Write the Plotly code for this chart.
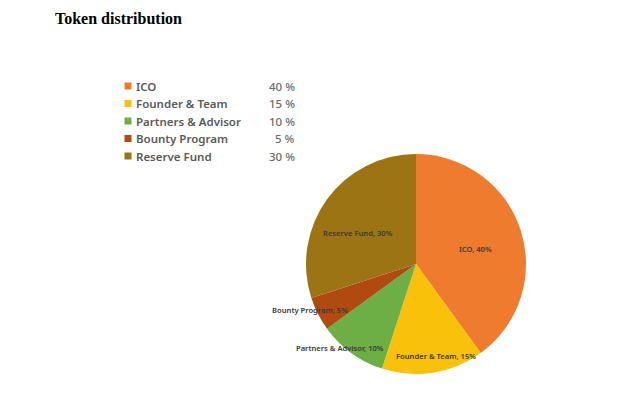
import math
import plotly.graph_objects as go

categories = ["ICO", "Founder & Team", "Partners & Advisor", "Bounty Program", "Reserve Fund"]
shares = [40, 15, 10, 5, 30]
colors = ["#EF7B2E", "#FAC10B", "#6DAE45", "#B14A10", "#9C7414"]
label_radius = [0.56, 0.855, 1.02, 1.05, 0.59]  # label distance from centre, as fraction of radius
label_xshift = [1, 5, -10, -3, -5]   # small pixel nudges of slice labels
label_yshift = [-4, 1, 7, 6, -7]
title_text = "Token distribution"

W, H = 640, 401
OFF = 8  # page body margin
cx, cy, r = 416 - OFF, 264 - OFF, 110

fig = go.Figure()
fig.add_trace(go.Pie(
    labels=categories,
    values=shares,
    sort=False,
    direction="clockwise",
    rotation=0,
    marker=dict(colors=colors, line=dict(width=0)),
    textinfo="none",
    hoverinfo="label+percent",
    showlegend=False,
    domain=dict(x=[(cx - r) / W, (cx + r) / W], y=[(H - cy - r) / H, (H - cy + r) / H]),
))

annotations = [dict(
    text="<b>" + title_text + "</b>", x=(53 - OFF) / W, y=1 - (18 - OFF) / H,
    xref="paper", yref="paper", xanchor="left", yanchor="middle", showarrow=False,
    font=dict(family="Liberation Serif", size=16, color="#000000"),
)]

# slice labels placed from the slice mid-angles
total = sum(shares)
start = 0.0
for cat, val, frac, dx, dy in zip(categories, shares, label_radius, label_xshift, label_yshift):
    mid = (start + val / 2) / total * 2 * math.pi
    start += val
    px = cx + frac * r * math.sin(mid)
    py = cy - frac * r * math.cos(mid)
    annotations.append(dict(
        text=f"{cat}, {val}%", x=px / W, y=1 - py / H, xref="paper", yref="paper",
        xanchor="center", yanchor="middle", showarrow=False, xshift=dx, yshift=dy,
        font=dict(family="Noto Sans", size=7.6, color="#3a3a3a", weight=600),
    ))

shapes = []
row0, step, sq = 86 - OFF, 17.5, 7
for i, (cat, val, col) in enumerate(zip(categories, shares, colors)):
    yc = row0 + i * step
    yy = 1 - yc / H
    xc = 128 - OFF
    shapes.append(dict(type="rect", xref="paper", yref="paper",
                       x0=(xc - sq / 2) / W, x1=(xc + sq / 2) / W,
                       y0=1 - (yc + sq / 2) / H, y1=1 - (yc - sq / 2) / H,
                       fillcolor=col, line=dict(width=0)))
    annotations.append(dict(text=cat, x=(134 - OFF) / W, y=yy, xref="paper", yref="paper",
                            xanchor="left", yanchor="middle", showarrow=False,
                            font=dict(family="Noto Sans", size=11.5, color="#595959", weight=600)))
    annotations.append(dict(text=f"{val} %", x=(297 - OFF) / W, y=yy, xref="paper", yref="paper",
                            xanchor="right", yanchor="middle", showarrow=False,
                            font=dict(family="Noto Sans", size=11.5, color="#6a6a6a", weight=500)))

fig.update_layout(
    width=W, height=H,
    margin=dict(l=0, r=0, t=0, b=0),
    paper_bgcolor="white", plot_bgcolor="white",
    annotations=annotations,
    shapes=shapes,
)
fig.write_html("out.html")
